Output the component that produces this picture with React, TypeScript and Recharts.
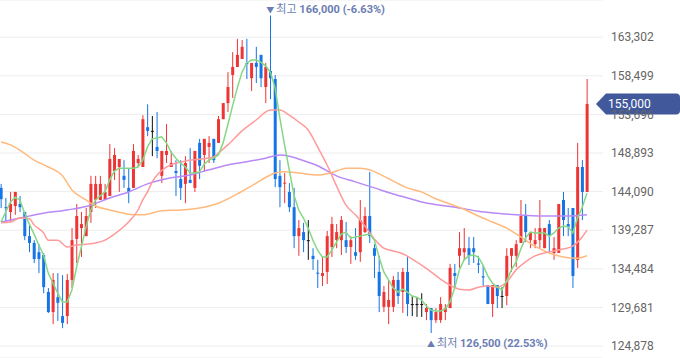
import React from 'react';
import {
  ComposedChart,
  Bar,
  Line,
  XAxis,
  YAxis,
  CartesianGrid,
  ReferenceDot,
  ReferenceLine,
} from 'recharts';

// ---- candles ----
const opens = [
  144550, 142150, 141550, 142300, 142550, 141550, 138550, 137700, 136550, 136200,
  131600, 129100, 130950, 128600, 128600, 133100, 138200, 139550, 138550, 141550,
  143050, 143050, 143050, 143550, 146650, 147150, 146050, 144550, 144550, 147650,
  147150, 152100, 151650, 149650, 146050, 148650, 147150, 146650, 145650, 145050,
  145550, 144550, 150150, 148650, 149650, 150650, 150150, 153100, 155100, 158600,
  159600, 160600, 160100, 158200, 160100, 161100, 157100, 159100, 158100, 146050,
  145100, 144050, 142150, 138550, 139050, 138050, 136100, 134000, 133600, 134100,
  137200, 138050, 138050, 138050, 137200, 136550, 136550, 139050, 141050, 137050,
  134100, 129750, 129750, 129750, 133100, 131600, 134100, 130100, 130100, 130100,
  129100, 129600, 128100, 128100, 129100, 129600, 133950, 136100, 136550, 137050,
  137050, 135150, 133550, 132450, 130100, 132450, 131100, 131100, 136100, 136100,
  137700, 141050, 138050, 137550, 138050, 137050, 140050, 136450, 136450, 143050,
  140050, 142050, 135600, 147150, 144050,
];
const highs = [
  145050, 143300, 144050, 144050, 143550, 141550, 139950, 138050, 137550, 136450,
  132100, 133950, 133950, 133700, 133850, 139550, 142550, 141550, 142050, 146050,
  146050, 146050, 145050, 150000, 149500, 148150, 148000, 147000, 150000, 148650,
  153600, 154950, 153500, 154000, 149150, 152500, 149150, 148000, 148000, 148500,
  149500, 149150, 150650, 150650, 151000, 150650, 153500, 155100, 158950, 161450,
  163100, 162950, 163100, 160100, 162100, 161100, 160100, 166000, 158600, 148000,
  146400, 145150, 144550, 140550, 140200, 140550, 137050, 135600, 135950, 139200,
  140950, 140050, 141050, 140300, 138550, 139550, 143050, 142150, 146550, 137550,
  136100, 132350, 133100, 133600, 134100, 134600, 135950, 131100, 130950, 131450,
  130100, 129600, 129600, 130950, 130100, 135100, 135100, 139050, 139550, 138450,
  138450, 136100, 134950, 132450, 132450, 132450, 132200, 137050, 137050, 138050,
  143050, 142550, 139050, 139550, 143050, 139550, 140550, 138450, 142550, 144050,
  142050, 142050, 150150, 148000, 158100,
];
const lows = [
  142050, 140200, 140300, 141200, 141550, 138050, 136550, 135200, 133950, 131450,
  129000, 127600, 128000, 127100, 127600, 132100, 135200, 135950, 138550, 140200,
  142050, 143050, 143050, 143550, 145550, 144050, 144550, 142650, 144550, 147150,
  147150, 151000, 148500, 148250, 145150, 147650, 147150, 143550, 143050, 142650,
  145150, 144050, 145650, 146550, 147650, 147650, 150150, 153100, 154000, 155750,
  159600, 160600, 158100, 156600, 157600, 157100, 155100, 155600, 144650, 142150,
  142650, 141550, 137050, 136100, 136550, 135600, 134350, 132100, 132350, 132600,
  135950, 137050, 136200, 136450, 135100, 135600, 135350, 138950, 137700, 133350,
  129100, 129100, 127600, 129100, 130100, 129000, 128600, 128600, 128500, 128500,
  128100, 126500, 127750, 127750, 128100, 129600, 132100, 134600, 135600, 134950,
  135200, 133950, 132200, 130100, 128500, 129600, 129600, 129950, 134100, 134700,
  137700, 137800, 137050, 137050, 137050, 137050, 136550, 135600, 136450, 138550,
  138550, 132100, 134600, 140550, 144050,
];
const closes = [
  143150, 142050, 142550, 144050, 142150, 138550, 137700, 135700, 135700, 132200,
  129100, 133100, 130250, 127750, 133100, 138050, 141050, 140050, 141050, 145050,
  145050, 145050, 144050, 148150, 148650, 148150, 145550, 144050, 149150, 148150,
  153100, 151650, 151650, 149150, 149150, 149150, 147650, 146400, 144550, 147650,
  145150, 149150, 147300, 150650, 150150, 148000, 153100, 155100, 157100, 159600,
  161100, 162100, 159950, 160100, 159600, 158200, 159600, 158200, 145650, 144650,
  145200, 142150, 138550, 139550, 138050, 138050, 135700, 133900, 133950, 138550,
  140050, 139050, 140550, 137200, 138050, 136100, 140550, 141050, 138550, 136100,
  131100, 131600, 130600, 133100, 131100, 134100, 130100, 130100, 130100, 130100,
  129600, 128100, 129100, 130100, 129600, 134600, 133600, 137050, 137050, 136100,
  136550, 135000, 133400, 130100, 132450, 131100, 131100, 136100, 137050, 137550,
  141050, 139050, 139050, 138050, 139550, 139550, 138550, 137050, 142550, 140550,
  139700, 133600, 147150, 144050, 155000,
];

// ---- moving averages ----
const ma5 = [
  140300, 141550, 142800, 143400, 143050, 141400, 140050, 138800, 137450, 136200,
  133950, 132700, 131450, 130350, 130350, 131850, 134700, 137200, 139700, 141800,
  143050, 143550, 144050, 145550, 146650, 147000, 147000, 147000, 147000, 147150,
  148000, 149650, 150650, 150750, 150900, 150150, 149000, 148250, 147650, 147150,
  146400, 146400, 146550, 147500, 148000, 148250, 148650, 150150, 152400, 154750,
  157000, 158950, 160100, 160450, 160450, 160200, 159700, 158950, 157000, 153250,
  149900, 146800, 143650, 141800, 140800, 139550, 138050, 136800, 135950, 135950,
  136800, 137800, 138800, 139050, 138300, 138450, 138550, 138700, 138800, 138050,
  135950, 134100, 133100, 132100, 131600, 131950, 131600, 131100, 130950, 130600,
  129850, 129350, 129250, 129250, 129500, 130350, 132100, 134350, 135600, 136100,
  136200, 135950, 134950, 133600, 132700, 132200, 131850, 132950, 134350, 135350,
  136950, 138300, 139050, 138950, 138950, 138950, 138550, 138950, 139550, 139800,
  139700, 138950, 140800, 142150, 143900,
];
const ma20Points: [number, number][] = [
  [0, 140200], [2, 140300], [4, 140800], [6, 140700], [7, 139950], [9, 138950],
  [10, 138050], [12, 138050], [14, 137200], [16, 137450], [18, 137550], [20, 137700],
  [22, 138050], [24, 138800], [27, 140300], [29, 141800], [30, 143050], [31, 144050],
  [32, 145300], [35, 147150], [39, 147900], [45, 148400], [46, 148900], [48, 149900],
  [51, 151650], [54, 153000], [57, 154250], [59, 154250], [61, 153600], [63, 152750],
  [65, 151750], [67, 149650], [69, 147400], [71, 144800], [73, 142400], [75, 141200],
  [77, 139800], [79, 138200], [81, 137050], [83, 136700], [85, 136350], [87, 135700],
  [89, 134950], [91, 134100], [93, 133200], [95, 132450], [97, 131950], [99, 131850],
  [101, 132200], [103, 132350], [105, 132200], [107, 132850], [109, 134350],
  [111, 135350], [113, 136100], [115, 136450], [117, 136700], [119, 136950],
  [121, 137300], [122, 137800], [123, 138450], [124, 139300],
];
const ma60Points: [number, number][] = [
  [0, 150250], [2, 149900], [4, 149250], [7, 148000], [10, 147150], [13, 146050],
  [15, 144300], [18, 143050], [20, 142300], [23, 141800], [26, 141400], [28, 141200],
  [30, 141200], [34, 141700], [38, 141800], [42, 142050], [46, 142650], [50, 143800],
  [54, 145150], [57, 146150], [58, 146400], [60, 146550], [63, 146400], [67, 146150],
  [69, 146300], [71, 146650], [73, 147000], [76, 147000], [78, 146800], [80, 146300],
  [83, 145400], [86, 144550], [89, 144050], [92, 143200], [95, 142550], [98, 141900],
  [101, 141050], [104, 140300], [107, 139550], [110, 138450], [113, 137300],
  [116, 136450], [119, 135950], [122, 135800], [124, 136100],
];
const ma120Points: [number, number][] = [
  [0, 140300], [4, 140800], [9, 141400], [14, 141800], [19, 142400], [23, 143300],
  [27, 144050], [31, 145050], [36, 145800], [40, 146150], [44, 146800], [48, 147400],
  [52, 147800], [56, 148250], [59, 148650], [61, 148500], [63, 148150], [67, 147300],
  [71, 146050], [75, 145300], [79, 144550], [83, 143800], [87, 143150], [89, 142800],
  [93, 142400], [97, 142050], [101, 141650], [105, 141400], [109, 141200],
  [115, 141050], [120, 141050], [124, 141200],
];

// ---- axis / labels ----
const yTicks = [124878, 129681, 134484, 139287, 144090, 148893, 153696, 158499, 163302];
const Y_MIN = 123387;
const Y_MAX = 167929;
const X_DOMAIN: [number, number] = [-0.2116, 127.39];
const LAST_PRICE = 155000;
const MAX_INDEX = 57;
const MAX_PRICE = 166000;
const MAX_LABEL = ['최고', '166,000 (-6.63%)'];
const MIN_INDEX = 91;
const MIN_PRICE = 126500;
const MIN_LABEL = ['최저', '126,500 (22.53%)'];

const UP = '#ee3535';
const DOWN = '#1575e6';
const FLAT = '#111111';
const ANNO = '#6b7db4';
const TAG = '#41599b';

const m20 = new Map(ma20Points);
const m60 = new Map(ma60Points);
const m120 = new Map(ma120Points);

const data = opens.map((o, i) => ({
  i,
  open: o,
  high: highs[i],
  low: lows[i],
  close: closes[i],
  range: [lows[i], highs[i]],
  ma5: ma5[i],
  ma20: m20.has(i) ? m20.get(i) : null,
  ma60: m60.has(i) ? m60.get(i) : null,
  ma120: m120.has(i) ? m120.get(i) : null,
}));

function Candle(props: any) {
  const { x, y, width, height, payload } = props;
  if (x == null || y == null || !payload) return null;
  const { open, close, high, low } = payload;
  const color = close > open ? UP : close < open ? DOWN : FLAT;
  const span = high - low;
  const k = span > 0 ? height / span : 0;
  const py = (v: number) => y + (high - v) * k;
  const cx = x + width / 2;
  const top = py(Math.max(open, close));
  const bottom = py(Math.min(open, close));
  const bodyH = Math.max(bottom - top, 1);
  return (
    <g>
      <rect x={cx - 0.5} y={y} width={1} height={Math.max(height, 1)} fill={color} />
      <rect x={cx - 1.5} y={top} width={3} height={bodyH} fill={color} />
    </g>
  );
}

function MaxMark(props: any) {
  const { cx, cy } = props;
  if (cx == null || cy == null) return null;
  return (
    <g>
      <text x={cx} y={cy - 3} textAnchor="middle" fontSize={8} fill={ANNO}>▼</text>
      <text x={cx + 6} y={cy - 3} fontSize={11} fill={ANNO}>
        <tspan>{MAX_LABEL[0]} </tspan>
        <tspan fontWeight="bold">{MAX_LABEL[1]}</tspan>
      </text>
    </g>
  );
}

function MinMark(props: any) {
  const { cx, cy } = props;
  if (cx == null || cy == null) return null;
  return (
    <g>
      <text x={cx} y={cy + 14} textAnchor="middle" fontSize={8} fill={ANNO}>▲</text>
      <text x={cx + 6} y={cy + 14} fontSize={11} fill={ANNO}>
        <tspan>{MIN_LABEL[0]} </tspan>
        <tspan fontWeight="bold">{MIN_LABEL[1]}</tspan>
      </text>
    </g>
  );
}

function PriceTag(props: any) {
  const vb = props.viewBox || {};
  const right = (vb.x ?? 0) + (vb.width ?? 0);
  const cy = vb.y ?? 0;
  const tip = right - 7;
  const h = 10.5;
  const d = `M${tip},${cy} L${tip + 10},${cy - h} H676 Q680,${cy - h} 680,${cy - h + 4} V${cy + h - 4} Q680,${cy + h} 676,${cy + h} H${tip + 10} Z`;
  return (
    <g>
      <path d={d} fill={TAG} />
      <text x={tip + 12} y={cy} dy="0.36em" fontSize={12} fill="#ffffff">
        {LAST_PRICE.toLocaleString('en-US')}
      </text>
    </g>
  );
}

export default function App() {
  return (
    <div
      style={{
        position: 'absolute',
        left: 0,
        top: 0,
        width: 680,
        height: 358,
        background: '#ffffff',
        fontFamily: "Roboto, 'Noto Sans CJK KR', sans-serif",
      }}
    >
      <ComposedChart
        width={680}
        height={358}
        data={data}
        margin={{ top: 0, right: 0, bottom: 0, left: 0 }}
      >
        <CartesianGrid horizontal vertical={false} stroke="#ededed" />
        <XAxis dataKey="i" type="number" domain={X_DOMAIN} hide allowDataOverflow />
        <YAxis
          orientation="right"
          width={77}
          domain={[Y_MIN, Y_MAX]}
          ticks={yTicks}
          interval={0}
          allowDataOverflow
          axisLine={false}
          tickLine={false}
          tick={{ fill: '#666666', fontSize: 12 }}
          tickFormatter={(v: number) => v.toLocaleString('en-US')}
        />
        <Bar
          dataKey="range"
          barSize={3}
          isAnimationActive={false}
          activeBar={false}
          shape={(p: any) => <Candle {...p} />}
        />
        <Line dataKey="ma120" type="monotone" stroke="#b98af6" strokeWidth={1.5} dot={false} activeDot={false} connectNulls isAnimationActive={false} />
        <Line dataKey="ma60" type="monotone" stroke="#ffb97c" strokeWidth={1.5} dot={false} activeDot={false} connectNulls isAnimationActive={false} />
        <Line dataKey="ma20" type="monotone" stroke="#ff9a9a" strokeWidth={1.5} dot={false} activeDot={false} connectNulls isAnimationActive={false} />
        <Line dataKey="ma5" type="linear" stroke="#84d884" strokeWidth={1.5} dot={false} activeDot={false} isAnimationActive={false} />
        <ReferenceDot x={MAX_INDEX} y={MAX_PRICE} r={0} ifOverflow="visible" shape={(p: any) => <MaxMark {...p} />} />
        <ReferenceDot x={MIN_INDEX} y={MIN_PRICE} r={0} ifOverflow="visible" shape={(p: any) => <MinMark {...p} />} />
        <ReferenceLine
          y={LAST_PRICE}
          stroke="none"
          ifOverflow="visible"
          label={(p: any) => <PriceTag {...p} />}
        />
      </ComposedChart>
    </div>
  );
}
